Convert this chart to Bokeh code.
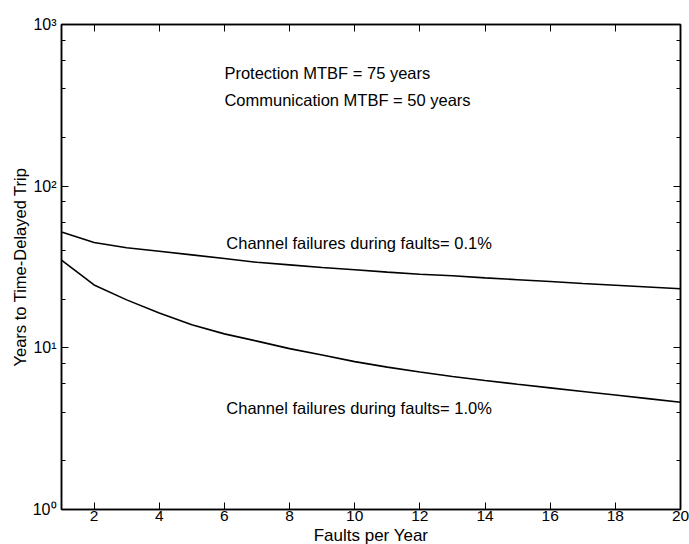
from bokeh.plotting import figure
from bokeh.models import (LinearAxis, LogAxis, FixedTicker, LogTicker, Label, Range1d,
                          CustomJSTickFormatter, Title)
from bokeh.embed import file_html
from bokeh.resources import INLINE

faults = list(range(1, 21))
years_01 = [52.0, 44.8, 41.6, 39.6, 37.6, 35.7, 33.8, 32.6, 31.4, 30.4,
            29.4, 28.5, 27.9, 27.1, 26.4, 25.7, 25.0, 24.4, 23.8, 23.2]
years_10 = [34.9, 24.5, 19.8, 16.4, 13.9, 12.2, 11.0, 9.89, 9.02, 8.22,
            7.60, 7.08, 6.65, 6.28, 5.95, 5.65, 5.37, 5.11, 4.85, 4.61]
x_ticks = [2, 4, 6, 8, 10, 12, 14, 16, 18, 20]
y_labels = {1: "10\u2070", 10: "10\u00b9", 100: "10\u00b2", 1000: "10\u00b3"}

FONT = "Liberation Sans"

p = figure(width=689, height=544, output_backend="svg", toolbar_location=None,
           y_axis_type="log", x_range=Range1d(1, 20), y_range=Range1d(1, 1000),
           min_border_left=61, min_border_right=9, min_border_top=24, min_border_bottom=0)
p.background_fill_color = "white"
p.border_fill_color = "white"
p.grid.visible = False
p.outline_line_color = "black"
p.outline_line_width = 1.5

p.line(faults, years_01, line_color="black", line_width=1.6)
p.line(faults, years_10, line_color="black", line_width=1.6)

xa = p.xaxis[0]
xa.ticker = FixedTicker(ticks=x_ticks)
ya = p.yaxis[0]
ya.ticker = LogTicker(desired_num_ticks=4)
ya.major_label_overrides = y_labels

for ax in (xa, ya):
    ax.axis_line_color = "black"
    ax.axis_line_width = 1.5
    ax.major_tick_in = 7
    ax.major_tick_out = 0
    ax.minor_tick_in = 4
    ax.minor_tick_out = 0
    ax.major_tick_line_color = "black"
    ax.minor_tick_line_color = "black"
    ax.major_label_text_font = FONT
    ax.major_label_text_font_size = "16px"
    ax.major_label_text_color = "black"
    ax.axis_label_text_font = FONT
    ax.axis_label_text_font_size = "16.5px"
    ax.axis_label_text_font_style = "normal"
    ax.axis_label_text_color = "black"
xa.minor_tick_line_color = None
xa.major_label_standoff = 1
xa.major_label_text_font_size = "15.5px"
ya.major_label_standoff = 5
ya.axis_label = "Years to Time-Delayed Trip"
ya.axis_label_standoff = 1

blank = CustomJSTickFormatter(code="return ''")
top = LinearAxis(ticker=FixedTicker(ticks=x_ticks), formatter=blank)
right = LogAxis(ticker=LogTicker(desired_num_ticks=4), formatter=blank)
for ax in (top, right):
    ax.axis_line_color = "black"
    ax.axis_line_width = 1.5
    ax.major_tick_in = 7
    ax.major_tick_out = 0
    ax.minor_tick_in = 4
    ax.minor_tick_out = 0
    ax.major_tick_line_color = "black"
    ax.minor_tick_line_color = "black"
    ax.major_label_standoff = 0
top.minor_tick_line_color = None
p.add_layout(top, "above")
p.add_layout(right, "right")

xtitle = Title(text="Faults per Year", align="center", text_font=FONT,
               text_font_size="17px", text_font_style="normal", text_color="black",
               standoff=0, offset=0)
p.add_layout(xtitle, "below")

def add_label(x, y, text, align="left", size="16.5px"):
    p.add_layout(Label(x=x, y=y, text=text, text_font=FONT, text_font_size=size,
                       text_color="black", text_baseline="middle", text_align=align))

add_label(6.0, 500, "Protection MTBF = 75 years")
add_label(6.0, 341, "Communication MTBF = 50 years")
add_label(6.06, 44.2, "Channel failures during faults= 0.1%")
add_label(6.06, 4.23, "Channel failures during faults= 1.0%")

open("out.html", "w").write(file_html(p, INLINE))
